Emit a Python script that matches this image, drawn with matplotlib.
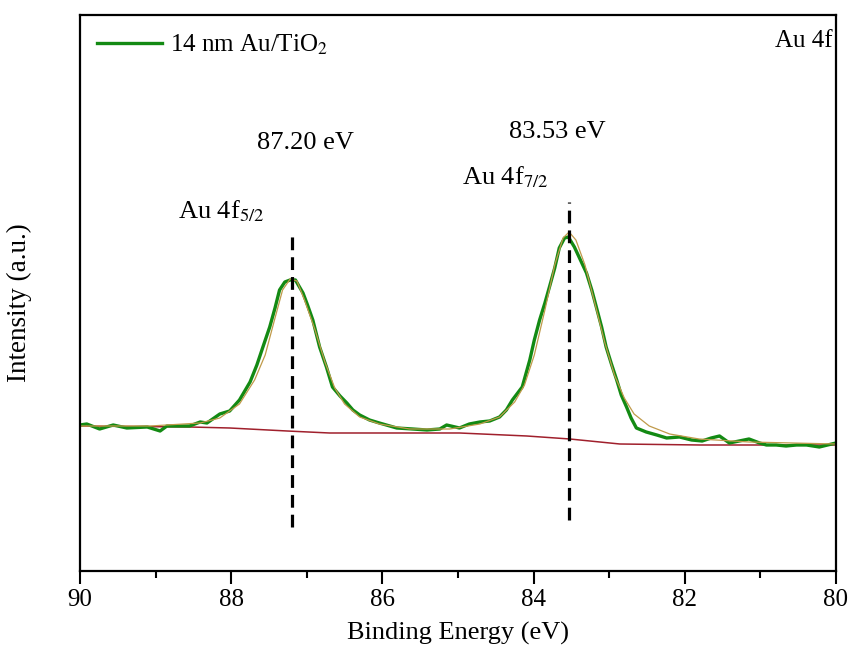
import matplotlib
matplotlib.use("Agg")
import matplotlib.pyplot as plt
from matplotlib.ticker import MultipleLocator

plt.rcParams['font.family'] = ['Liberation Serif', 'DejaVu Serif']
plt.rcParams['mathtext.fontset'] = 'stix'

# measured spectrum (binding energy in eV, intensity in a.u.)
energy = [90.00, 89.91, 89.74, 89.56, 89.38, 89.11, 88.94, 88.85, 88.55, 88.41,
          88.32, 88.15, 88.02, 87.89, 87.75, 87.66, 87.58, 87.49, 87.42, 87.36,
          87.29, 87.22, 87.15, 87.05, 86.99, 86.92, 86.83, 86.74, 86.66, 86.56,
          86.47, 86.39, 86.30, 86.17, 86.04, 85.81, 85.60, 85.41, 85.24, 85.15,
          84.98, 84.85, 84.71, 84.58, 84.45, 84.36, 84.28, 84.21, 84.15, 84.05,
          83.99, 83.92, 83.85, 83.79, 83.72, 83.66, 83.59, 83.54, 83.46, 83.38,
          83.30, 83.23, 83.17, 83.10, 83.04, 82.97, 82.90, 82.84, 82.77, 82.71,
          82.64, 82.51, 82.37, 82.24, 82.07, 81.91, 81.77, 81.65, 81.54, 81.41,
          81.28, 81.15, 81.01, 80.92, 80.79, 80.66, 80.52, 80.39, 80.22, 80.11,
          80.00]
intensity = [146, 147, 142, 146, 143, 144, 140, 145, 145, 149,
             148, 157, 160, 171, 189, 206, 224, 244, 263, 281,
             289, 291, 291, 278, 266, 251, 224, 204, 184, 175,
             168, 161, 156, 151, 148, 143, 142, 141, 142, 146,
             143, 147, 149, 150, 154, 161, 171, 178, 184, 211,
             231, 251, 268, 284, 303, 323, 333, 334, 324, 311,
             298, 281, 264, 244, 224, 207, 191, 176, 164, 153,
             143, 139, 136, 133, 134, 131, 130, 133, 135, 128,
             130, 132, 128, 126, 126, 125, 126, 126, 124, 126,
             128]

# fitted envelope
fit_energy = [90.00, 89.07, 88.41, 88.15, 87.89, 87.69, 87.55, 87.42, 87.32, 87.22,
              87.13, 87.03, 86.89, 86.76, 86.63, 86.50, 86.30, 86.04, 85.64, 85.11,
              84.71, 84.45, 84.25, 84.12, 83.99, 83.85, 83.72, 83.61, 83.53, 83.44,
              83.32, 83.19, 83.06, 82.93, 82.80, 82.67, 82.47, 82.20, 81.81, 81.15,
              80.00]
fit_intensity = [145, 145, 148, 153, 167, 191, 216, 253, 281, 292,
                 290, 271, 241, 209, 183, 167, 154, 147, 142, 142,
                 147, 154, 169, 186, 216, 261, 306, 333, 339, 331,
                 306, 268, 229, 196, 173, 157, 145, 137, 132, 129,
                 127]

# Shirley background
bg_energy = [90.00, 88.55, 88.02, 87.26, 86.70, 84.98, 84.09, 83.52, 82.86, 81.80, 80.00]
bg_intensity = [145, 144, 143, 140, 138, 138, 135, 132, 127, 126, 126]

peak_pos = [87.20, 83.53]
peak_labels = ["87.20 eV", "83.53 eV"]

fig = plt.figure(figsize=(8.48, 6.57), dpi=100)
ax = fig.add_axes([0.0943, 0.1309, 0.8915, 0.8463])

ax.plot(bg_energy, bg_intensity, color='#a0202c', linewidth=1.1)
ax.plot(energy, intensity, color='#138a13', linewidth=2.4, label='14 nm Au/TiO$_2$')
ax.plot(fit_energy, fit_intensity, color='#c09a4a', linewidth=0.9)

# peak markers
ax.vlines(peak_pos[0], 44, 336, colors='black', linestyles=(0, (4, 2.2)), linewidth=2.3)
ax.vlines(peak_pos[1], 51, 369, colors='black', linestyles=(0, (4, 2.2)), linewidth=2.3)

ax.text(87.66, 422, peak_labels[0], fontsize=19)
ax.text(84.33, 433, peak_labels[1], fontsize=19)
ax.text(88.70, 353, 'Au 4f$_{5/2}$', fontsize=19)
ax.text(84.94, 387, 'Au 4f$_{7/2}$', fontsize=19)
ax.text(0.995, 0.942, 'Au 4f', transform=ax.transAxes, ha='right', va='baseline', fontsize=18)

ax.set_xlim(90, 80)
ax.set_ylim(0, 556)
ax.xaxis.set_major_locator(MultipleLocator(2))
ax.xaxis.set_minor_locator(MultipleLocator(1))
ax.tick_params(axis='x', which='major', direction='out', length=9, width=1.5,
               labelsize=18, pad=4, top=False)
ax.tick_params(axis='x', which='minor', direction='out', length=5, width=1.5, top=False)
ax.tick_params(axis='y', left=False, labelleft=False)
for s in ax.spines.values():
    s.set_linewidth(1.6)

ax.set_xlabel('Binding Energy (eV)', fontsize=19, labelpad=8)
ax.set_ylabel('Intensity (a.u.)', fontsize=19.5)
ax.yaxis.set_label_coords(-0.063, 0.482)

ax.legend(loc='upper left', frameon=False, fontsize=18, handlelength=2.6,
          handletextpad=0.3, borderaxespad=0.3)

fig.savefig("out.png", dpi=100)
